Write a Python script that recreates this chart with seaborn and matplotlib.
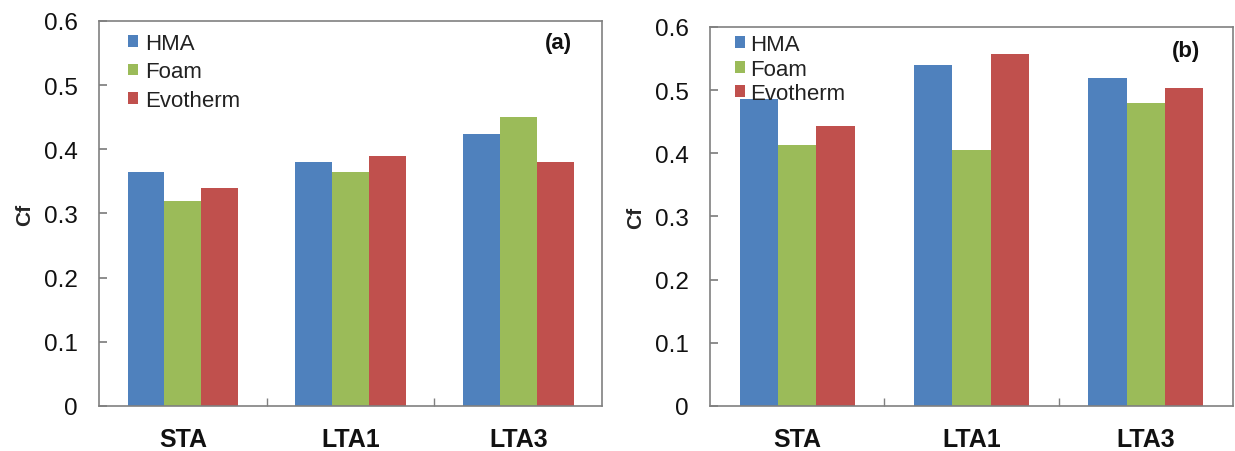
import matplotlib
matplotlib.use("Agg")
import matplotlib.pyplot as plt
import seaborn as sns
import pandas as pd

categories = ["STA", "LTA1", "LTA3"]
mixes = ["HMA", "Foam", "Evotherm"]
a_hma = [0.365, 0.380, 0.424]
a_foam = [0.320, 0.365, 0.450]
a_evo = [0.340, 0.390, 0.380]
b_hma = [0.486, 0.540, 0.519]
b_foam = [0.413, 0.406, 0.480]
b_evo = [0.443, 0.557, 0.503]
yticks = [0, 0.1, 0.2, 0.3, 0.4, 0.5, 0.6]
ytick_labels = ["0", "0.1", "0.2", "0.3", "0.4", "0.5", "0.6"]
colors = ["#4F81BD", "#9BBB59", "#C0504D"]

sns.set_theme(style="white")
plt.rcParams["font.family"] = ["Liberation Sans", "DejaVu Sans"]

def frame(h, f, e):
    rows = []
    for i, c in enumerate(categories):
        for m, v in zip(mixes, (h[i], f[i], e[i])):
            rows.append({"cat": c, "mix": m, "Cf": v})
    return pd.DataFrame(rows)

fig = plt.figure(figsize=(12.35, 4.52), dpi=100)
axa = fig.add_axes([0.0802, 0.0996, 0.4073, 0.8518])
axb = fig.add_axes([0.5749, 0.0996, 0.4235, 0.8385])

panels = [
    (axa, frame(a_hma, a_foam, a_evo), "(a)", (0.058, 0.968), (0.94, 0.945), 0.32, 0.3),
    (axb, frame(b_hma, b_foam, b_evo), "(b)", (0.048, 0.982), (0.937, 0.937), 0.17, 0.22),
]
for ax, df, tag, legloc, tagpos, lspace, tpad in panels:
    sns.barplot(data=df, x="cat", y="Cf", hue="mix", hue_order=mixes,
                palette=colors, width=0.66, saturation=1, ax=ax,
                edgecolor="none", linewidth=0)
    ax.set_ylim(0, 0.6)
    ax.set_xlim(-0.5, 2.5)
    ax.set_yticks(yticks)
    ax.set_yticklabels(ytick_labels)
    ax.set_xlabel("")
    ax.set_ylabel("Cf", fontsize=15, fontweight="bold", labelpad=7)
    for s in ax.spines.values():
        s.set_color("#808080")
        s.set_linewidth(1.2)
    ax.tick_params(axis="y", left=True, direction="in", length=6, color="#808080",
                   labelsize=17.5, pad=15.5, labelcolor="#111111")
    ax.tick_params(axis="x", bottom=False, labelsize=18, pad=9, labelcolor="#111111")
    for lab in ax.get_xticklabels():
        lab.set_fontweight("bold")
    ax.set_xticks([0.5, 1.5], minor=True)
    ax.tick_params(axis="x", which="minor", bottom=True, direction="in", length=6,
                   color="#808080")
    ax.text(tagpos[0], tagpos[1], tag, transform=ax.transAxes, ha="right", va="center",
            fontsize=16, fontweight="bold", color="#111111")
    leg = ax.legend(loc="upper left", bbox_to_anchor=legloc, frameon=False,
                    fontsize=16, handlelength=0.45, handleheight=0.45,
                    handletextpad=tpad, labelspacing=lspace, borderaxespad=0,
                    borderpad=0)
    for t in leg.get_texts():
        t.set_color("#222222")

fig.savefig("out.png", dpi=100)
